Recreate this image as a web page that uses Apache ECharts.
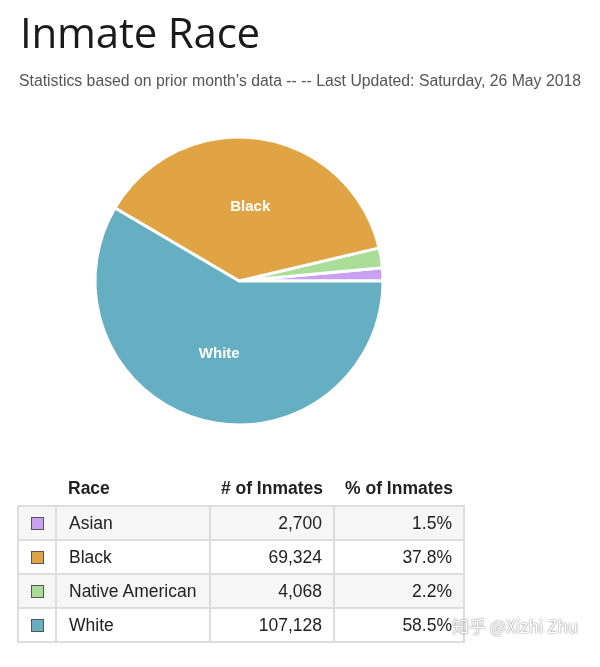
<!DOCTYPE html>
<html><head><meta charset="utf-8">
<script src="https://cdn.jsdelivr.net/npm/echarts@6/dist/echarts.min.js"></script>
<style>
html,body{margin:0;padding:0;background:#fff;width:600px;height:667px;overflow:hidden;}
#title{position:absolute;left:20px;top:3px;font-family:"Open Sans",sans-serif;font-size:42px;color:#1a1a1a;margin:0;font-weight:400;letter-spacing:-0.2px;}
#sub{position:absolute;left:19px;top:72px;font-family:"Liberation Sans",Arial,sans-serif;font-size:15.8px;color:#555;white-space:nowrap;}
#chart{position:absolute;left:0;top:0;width:600px;height:667px;}
table{position:absolute;left:17px;top:472px;border-collapse:collapse;table-layout:fixed;width:446px;font-family:"Liberation Sans",Arial,sans-serif;font-size:17.5px;color:#222;}
th{font-weight:bold;height:33px;padding:0 11px 0 12px;text-align:left;white-space:nowrap;border:0;}
th.num{text-align:right;padding-left:0;}
tr.row{height:34px;}
td{border:2px solid #ddd;padding:0 11px 0 12px;white-space:nowrap;}
td.num{text-align:right;padding-left:0;}
td.sw{padding:0;text-align:center;}
.box{display:inline-block;width:11px;height:11px;border:1px solid #555;vertical-align:middle;}
tr.odd td{background:#f6f6f6;}
#wm{position:absolute;left:452px;top:613px;font-family:"Noto Sans CJK SC",sans-serif;font-size:17px;color:#fff;text-shadow:0 0 2px #888,0 0 1px #999;white-space:nowrap;}
</style></head>
<body>
<div id="chart"></div>
<div id="title">Inmate Race</div>
<div id="sub">Statistics based on prior month's data -- -- Last Updated: Saturday, 26 May 2018</div>
<table id="tbl"></table>
<div id="wm">知乎 @Xizhi Zhu</div>
<script>
var races = ["Asian", "Black", "Native American", "White"];
var inmates = [2700, 69324, 4068, 107128];
var percents = ["1.5%", "37.8%", "2.2%", "58.5%"];
var colors = ["#c9a0f2", "#e1a445", "#a9dd98", "#66afc3"];
var pieOrder = ["Asian", "Native American", "Black", "White"];
var headers = ["Race", "# of Inmates", "% of Inmates"];

// table
var tbl = document.getElementById('tbl');
var h = '<colgroup><col style="width:38px"><col style="width:154px"><col style="width:124px"><col style="width:130px"></colgroup>';
h += '<tr><th></th><th>' + headers[0] + '</th><th class="num">' + headers[1] + '</th><th class="num">' + headers[2] + '</th></tr>';
for (var i = 0; i < races.length; i++) {
  h += '<tr class="row ' + (i % 2 === 0 ? 'odd' : 'even') + '"><td class="sw"><span class="box" style="background:' + colors[i] + '"></span></td>' +
       '<td>' + races[i] + '</td>' +
       '<td class="num">' + inmates[i].toLocaleString('en-US') + '</td>' +
       '<td class="num">' + percents[i] + '</td></tr>';
}
tbl.innerHTML = h;

var chart = echarts.init(document.getElementById('chart'));
var data = pieOrder.map(function (name) {
  var idx = races.indexOf(name);
  var big = inmates[idx] > 20000;
  return {
    name: name, value: inmates[idx],
    itemStyle: { color: colors[idx] },
    label: { show: big }
  };
});
chart.setOption({
  animation: false,
  series: [{
    type: 'pie',
    center: [239, 281],
    radius: 144,
    startAngle: 0,
    clockwise: false,
    data: data,
    itemStyle: { borderColor: '#fff', borderWidth: 3 },
    label: {
      position: 'inside', formatter: '{b}', color: '#fff',
      fontWeight: 'bold', fontSize: 15, fontFamily: 'Liberation Sans, Arial, sans-serif'
    },
    labelLine: { show: false },
    emphasis: { disabled: true }
  }]
});
</script>
</body></html>
